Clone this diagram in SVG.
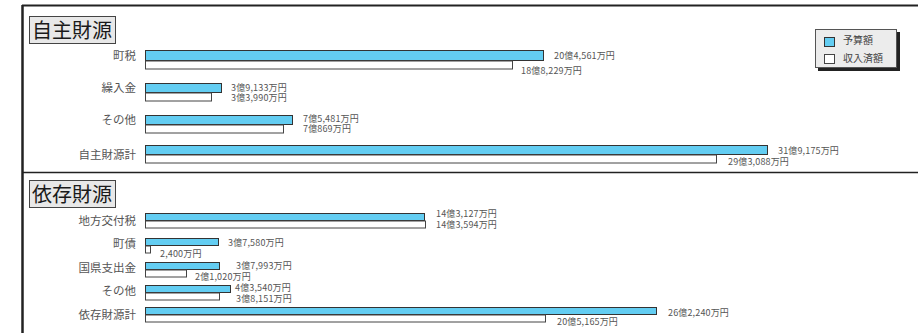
<svg xmlns="http://www.w3.org/2000/svg" width="918" height="333" viewBox="0 0 918 333">
<style>
text{font-family:"Noto Sans CJK JP","Noto Sans",sans-serif;fill:#333}
.cat{font-size:11.5px;text-anchor:end;fill:#555}
.val{font-size:9px;letter-spacing:0.15px;fill:#555}
.ttl{font-size:20px;fill:#1a1a1a}
.tbox{fill:#e8e8e8;stroke:#444;stroke-width:1}
.b{fill:#63cdf2;stroke:#333;stroke-width:1}
.w{fill:#fff;stroke:#444;stroke-width:1}
.lg{font-size:10px;fill:#444}
</style>
<rect x="0" y="0" width="918" height="333" fill="#fff"/>
<g id="frame">
<line x1="22.5" y1="5" x2="22.5" y2="333" stroke="#222" stroke-width="2.5"/>
<line x1="22" y1="5.5" x2="918" y2="5.5" stroke="#222" stroke-width="2"/>
<line x1="22" y1="172.5" x2="918" y2="172.5" stroke="#222" stroke-width="1.5"/>
</g>
<g id="title-jishu">
<rect class="tbox" x="29.5" y="16.5" width="86" height="27"/>
<text class="ttl" x="32" y="37.5">自主財源</text>
</g>
<g id="title-izon">
<rect class="tbox" x="29.5" y="180.5" width="86" height="27"/>
<text class="ttl" x="32" y="201.5">依存財源</text>
</g>
<g id="legend">
<rect x="818" y="32" width="82" height="39" fill="#222"/>
<rect x="815.5" y="29.5" width="81" height="38" fill="#ececec" stroke="#555"/>
<rect class="b" x="824.5" y="37.5" width="10" height="9"/>
<rect class="w" x="824.5" y="54.5" width="10" height="9"/>
<text class="lg" x="843" y="44">予算額</text>
<text class="lg" x="843" y="62">収入済額</text>
</g>
<g id="row-chozei">
<text class="cat" x="136" y="60">町税</text>
<rect class="b" x="145.5" y="50.5" width="398" height="10"/>
<rect class="w" x="145.5" y="61" width="367" height="8"/>
<text class="val" x="554" y="58.5">20億4,561万円</text>
<text class="val" x="521" y="73.5">18億8,229万円</text>
</g>
<g id="row-kuriire">
<text class="cat" x="136" y="92">繰入金</text>
<rect class="b" x="145.5" y="83.5" width="76" height="9"/>
<rect class="w" x="145.5" y="93" width="66" height="8"/>
<text class="val" x="231" y="90.5">3億9,133万円</text>
<text class="val" x="231" y="100.5">3億3,990万円</text>
</g>
<g id="row-sonota1">
<text class="cat" x="136" y="124">その他</text>
<rect class="b" x="145.5" y="115.5" width="147" height="9"/>
<rect class="w" x="145.5" y="125" width="138" height="8"/>
<text class="val" x="303" y="121.5">7億5,481万円</text>
<text class="val" x="303" y="131.5">7億869万円</text>
</g>
<g id="row-jishukei">
<text class="cat" x="136" y="159">自主財源計</text>
<rect class="b" x="145.5" y="145.5" width="622" height="9"/>
<rect class="w" x="145.5" y="155" width="571" height="8"/>
<text class="val" x="778" y="153.5">31億9,175万円</text>
<text class="val" x="728" y="164.5">29億3,088万円</text>
</g>
<g id="row-kofuzei">
<text class="cat" x="136" y="225">地方交付税</text>
<rect class="b" x="145.5" y="213.5" width="279" height="7"/>
<rect class="w" x="145.5" y="221" width="280" height="7"/>
<text class="val" x="436" y="216.5">14億3,127万円</text>
<text class="val" x="436" y="227.5">14億3,594万円</text>
</g>
<g id="row-chosai">
<text class="cat" x="136" y="248">町債</text>
<rect class="b" x="145.5" y="238.5" width="73" height="7"/>
<rect class="w" x="145.5" y="246" width="5" height="7"/>
<text class="val" x="228" y="245.5">3億7,580万円</text>
<text class="val" x="160" y="256.5">2,400万円</text>
</g>
<g id="row-kokken">
<text class="cat" x="136" y="272">国県支出金</text>
<rect class="b" x="145.5" y="262.5" width="74" height="7"/>
<rect class="w" x="145.5" y="270" width="41" height="7"/>
<text class="val" x="236" y="268.5">3億7,993万円</text>
<text class="val" x="195" y="279.5">2億1,020万円</text>
</g>
<g id="row-sonota2">
<text class="cat" x="136" y="295">その他</text>
<rect class="b" x="145.5" y="285.5" width="85" height="7"/>
<rect class="w" x="145.5" y="293" width="74" height="7"/>
<text class="val" x="235" y="290.5">4億3,540万円</text>
<text class="val" x="236" y="301.5">3億8,151万円</text>
</g>
<g id="row-izonkei">
<text class="cat" x="136" y="319">依存財源計</text>
<rect class="b" x="145.5" y="307.5" width="511" height="7"/>
<rect class="w" x="145.5" y="315" width="400" height="7"/>
<text class="val" x="668" y="315.5">26億2,240万円</text>
<text class="val" x="557" y="324.5">20億5,165万円</text>
</g>
<g id="connectors"></g>
</svg>
